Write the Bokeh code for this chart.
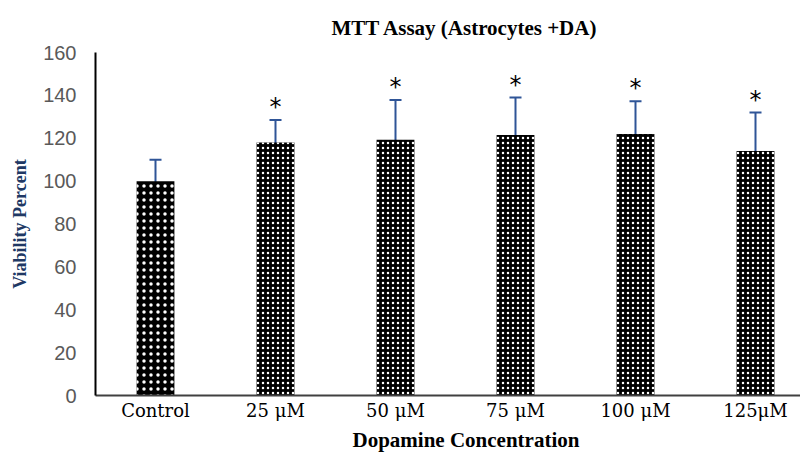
from bokeh.plotting import figure
from bokeh.models import ColumnDataSource, Whisker, TeeHead, FixedTicker, Range1d, Title
from bokeh.core.properties import value
from bokeh.embed import file_html
from bokeh.resources import INLINE

categories = ["Control", "25 μM", "50 μM", "75 μM", "100 μM", "125μM"]
viability = [100.0, 118.0, 119.3, 121.5, 122.0, 114.0]
error = [10.0, 10.5, 18.5, 17.5, 15.3, 18.0]
stars = ["", "*", "*", "*", "*", "*"]
y_ticks = [0, 20, 40, 60, 80, 100, 120, 140, 160]

xs = list(range(len(categories)))
upper = [v + e for v, e in zip(viability, error)]
lower = [v - e for v, e in zip(viability, error)]

src = ColumnDataSource(dict(x=xs, top=viability, upper=upper, lower=lower, star=stars))
src_ctrl = ColumnDataSource(dict(x=xs[:1], top=viability[:1]))
src_trt = ColumnDataSource(dict(x=xs[1:], top=viability[1:]))

p = figure(frame_width=705, frame_height=343, output_backend="svg", toolbar_location=None,
           x_range=Range1d(-0.5, 5.375), y_range=Range1d(0, 160),
           min_border_left=95, min_border_right=0, min_border_top=51, min_border_bottom=52)
p.outline_line_color = None
p.xgrid.grid_line_color = None
p.ygrid.grid_line_color = None
p.background_fill_color = "white"

p.title = Title(text="MTT Assay (Astrocytes +DA)", align="left", offset=236,
                text_font="Liberation Serif", text_font_style="bold",
                text_font_size="21px", text_color="black", standoff=26)

p.vbar(x="x", top="top", width=0.315, source=src_ctrl, fill_color="black",
       line_color=None, hatch_pattern="dot", hatch_color="white",
       hatch_scale=7, hatch_weight=1.5)
p.vbar(x="x", top="top", width=0.315, source=src_trt, fill_color="black",
       line_color=None, hatch_pattern="dot", hatch_color="white",
       hatch_scale=5, hatch_weight=3.4)

blue = "#2F5597"
w = Whisker(base="x", upper="upper", lower="lower", source=src,
            line_color=blue, line_width=2,
            upper_head=TeeHead(size=12, line_color=blue, line_width=2),
            lower_head=TeeHead(size=12, line_color=blue, line_width=2))
p.add_layout(w)

p.text(x="x", y="upper", text="star", source=src, y_offset=-13,
       text_align="center", text_baseline="middle",
       text_font=value("DejaVu Sans"), text_font_size="24px", text_color="black")

# axes
xa = p.xaxis[0]
xa.ticker = FixedTicker(ticks=xs)
xa.major_label_overrides = {i: c for i, c in enumerate(categories)}
xa.major_tick_line_color = None
xa.major_tick_out = 0
xa.major_tick_in = 0
xa.minor_tick_line_color = None
xa.minor_tick_out = 0
xa.axis_line_color = "#404040"
xa.axis_line_width = 2
xa.major_label_text_font = "DejaVu Serif"
xa.major_label_text_font_size = "18px"
xa.major_label_text_color = "black"
xa.major_label_standoff = 4

p.add_layout(Title(text="Dopamine Concentration", align="left", offset=257,
                   text_font="Liberation Serif", text_font_style="bold",
                   text_font_size="21px", text_color="black", standoff=4), "below")

ya = p.yaxis[0]
ya.ticker = FixedTicker(ticks=y_ticks)
ya.major_tick_line_color = None
ya.major_tick_out = 0
ya.major_tick_in = 0
ya.minor_tick_line_color = None
ya.minor_tick_out = 0
ya.axis_line_color = "black"
ya.axis_line_width = 2
ya.major_label_text_font = "Liberation Sans"
ya.major_label_text_font_size = "20px"
ya.major_label_text_color = "#595959"
ya.major_label_standoff = 19
ya.axis_label = "Viability Percent"
ya.axis_label_text_font = "Liberation Serif"
ya.axis_label_text_font_style = "bold"
ya.axis_label_text_font_size = "18px"
ya.axis_label_text_color = "#203864"
ya.axis_label_standoff = 10

open("out.html", "w").write(file_html(p, INLINE))
